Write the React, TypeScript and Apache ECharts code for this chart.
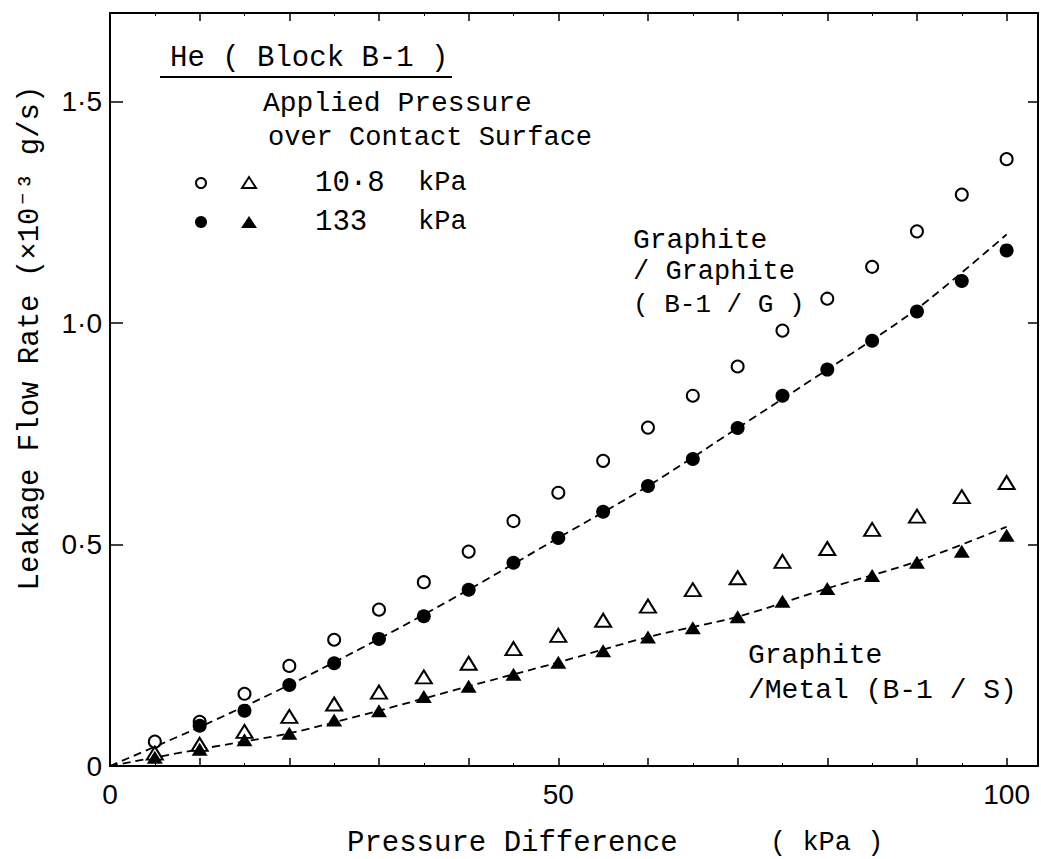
import React, { useEffect, useRef } from "react";
import * as echarts from "echarts";

// Pressure difference (kPa) of each measurement
const pressureDiff = [5, 10, 15, 20, 25, 30, 35, 40, 45, 50, 55, 60, 65, 70, 75, 80, 85, 90, 95, 100];

// Leakage flow rate (x10^-3 g/s)
// Graphite / Graphite (B-1/G)
const ggLow = [0.055, 0.100, 0.163, 0.226, 0.285, 0.353, 0.415, 0.484, 0.553, 0.617, 0.689, 0.764, 0.836, 0.902, 0.983, 1.055, 1.127, 1.207, 1.290, 1.370];
const ggHigh = [null, 0.091, 0.125, 0.183, 0.232, 0.287, 0.338, 0.398, 0.459, 0.515, 0.574, 0.632, 0.693, 0.763, 0.836, 0.895, 0.960, 1.026, 1.095, 1.164];
// Graphite / Metal (B-1/S)
const gmLow = [0.029, 0.049, 0.078, 0.112, 0.140, 0.167, 0.201, 0.232, 0.265, 0.295, 0.329, 0.361, 0.398, 0.425, 0.462, 0.491, 0.534, 0.564, 0.608, 0.640];
const gmHigh = [0.020, 0.038, 0.059, 0.074, 0.104, 0.125, 0.157, 0.180, 0.207, 0.234, 0.260, 0.291, 0.312, 0.337, 0.372, 0.401, 0.430, 0.460, 0.485, 0.521];

// Dashed fitted curves
const fitX = [0, 10, 20, 30, 40, 50, 60, 70, 80, 90, 100];
const ggFit = [0, 0.088, 0.183, 0.287, 0.398, 0.515, 0.632, 0.763, 0.895, 1.032, 1.2];
const gmFit = [0, 0.038, 0.074, 0.125, 0.180, 0.234, 0.291, 0.337, 0.401, 0.462, 0.540];

const xTickLabels = [0, 50, 100];
const yTickLabels = [0, 0.5, 1.0, 1.5];

const pairs = (xs: number[], ys: (number | null)[]) =>
  xs.map((x, i) => [x, ys[i]]).filter((p) => p[1] !== null);

const MONO = "'Liberation Mono', 'DejaVu Sans Mono', monospace";
const SANS = "'Liberation Sans', 'DejaVu Sans', sans-serif";

const txt = (text: string, x: number, y: number, size: number, extra: any = {}) => ({
  type: "text",
  x,
  y,
  z: 100,
  ...extra,
  style: {
    text,
    fill: "#000",
    fontSize: size,
    fontFamily: MONO,
    textAlign: "left",
    textVerticalAlign: "middle",
    align: "left",
    verticalAlign: "middle",
    ...(extra.style || {}),
  },
});

export default function App() {
  const ref = useRef<HTMLDivElement>(null);

  useEffect(() => {
    if (!ref.current) return;
    const chart = echarts.init(ref.current, null, { renderer: "svg" });

    const dashed = { color: "#000", width: 1.8, type: [8, 5] as any };
    const xCommon = {
      type: "value",
      min: 0,
      max: 103.5,
      interval: 10,
      splitLine: { show: false },
      axisLine: { show: true, onZero: false, lineStyle: { color: "#000", width: 2 } },
      axisTick: { show: true, inside: true, length: 8, lineStyle: { color: "#000", width: 1.5 } },
      minorTick: { show: true, splitNumber: 2, length: 3, lineStyle: { color: "#000", width: 1 } },
    };
    const yCommon = {
      type: "value",
      min: 0,
      max: 1.7,
      interval: 0.5,
      splitLine: { show: false },
      axisLine: { show: true, onZero: false, lineStyle: { color: "#000", width: 2 } },
      axisTick: { show: true, inside: true, length: 13, lineStyle: { color: "#000", width: 1.5 } },
    };

    chart.setOption({
      animation: false,
      backgroundColor: "#fff",
      grid: { left: 110, right: 3, top: 13, bottom: 93, containLabel: false },
      xAxis: [
        {
          ...xCommon,
          position: "bottom",
          axisLabel: {
            show: true,
            margin: 14,
            color: "#000",
            fontSize: 28,
            fontFamily: SANS,
            formatter: (v: number) => (xTickLabels.indexOf(v) >= 0 ? String(v) : ""),
          },
        },
        { ...xCommon, position: "top", axisLabel: { show: false } },
      ],
      yAxis: [
        {
          ...yCommon,
          position: "left",
          axisLabel: {
            show: true,
            margin: 8,
            color: "#000",
            fontSize: 28,
            fontFamily: SANS,
            formatter: (v: number) => {
              const hit = yTickLabels.find((t) => Math.abs(t - v) < 1e-6);
              if (hit === undefined) return "";
              return hit === 0 ? "0" : hit.toFixed(1).replace(".", "·");
            },
          },
        },
        { ...yCommon, position: "right", axisTick: { ...yCommon.axisTick, length: 10 }, axisLabel: { show: false } },
      ],
      series: [
        {
          name: "B-1/G fit",
          type: "line",
          smooth: 0.3,
          showSymbol: false,
          data: pairs(fitX, ggFit),
          lineStyle: dashed,
          z: 1,
        },
        {
          name: "B-1/S fit",
          type: "line",
          smooth: 0.3,
          showSymbol: false,
          data: pairs(fitX, gmFit),
          lineStyle: dashed,
          z: 1,
        },
        {
          name: "B-1/G 10.8 kPa",
          type: "scatter",
          symbol: "circle",
          symbolSize: 12,
          data: pairs(pressureDiff, ggLow),
          itemStyle: { color: "#fff", borderColor: "#000", borderWidth: 2, opacity: 1 },
          z: 3,
        },
        {
          name: "B-1/G 133 kPa",
          type: "scatter",
          symbol: "circle",
          symbolSize: 14,
          data: pairs(pressureDiff, ggHigh),
          itemStyle: { color: "#000", opacity: 1 },
          z: 3,
        },
        {
          name: "B-1/S 10.8 kPa",
          type: "scatter",
          symbol: "triangle",
          symbolSize: [16, 13],
          data: pairs(pressureDiff, gmLow),
          itemStyle: { color: "#fff", borderColor: "#000", borderWidth: 2, opacity: 1 },
          z: 3,
        },
        {
          name: "B-1/S 133 kPa",
          type: "scatter",
          symbol: "triangle",
          symbolSize: [16, 13],
          data: pairs(pressureDiff, gmHigh),
          itemStyle: { color: "#000", opacity: 1 },
          z: 3,
        },
      ],
      graphic: [
        txt("He ( Block B-1 )", 170, 58, 29),
        { type: "line", z: 100, shape: { x1: 160, y1: 77, x2: 452, y2: 77 }, style: { stroke: "#000", lineWidth: 2 } },
        txt("Applied Pressure", 263, 103, 28),
        txt("over Contact Surface", 268, 138, 27),
        { type: "circle", z: 100, shape: { cx: 201, cy: 183, r: 5 }, style: { fill: "#fff", stroke: "#000", lineWidth: 2 } },
        { type: "polygon", z: 100, shape: { points: [[242, 188], [256, 188], [249, 177]] }, style: { fill: "#fff", stroke: "#000", lineWidth: 2 } },
        txt("10·8", 315, 183, 29),
        txt("kPa", 418, 183, 27),
        { type: "circle", z: 100, shape: { cx: 201, cy: 222, r: 6 }, style: { fill: "#000" } },
        { type: "polygon", z: 100, shape: { points: [[241, 228], [257, 228], [249, 216]] }, style: { fill: "#000" } },
        txt("133", 315, 222, 29),
        txt("kPa", 418, 222, 27),
        txt("Graphite", 633, 240, 28),
        txt("/ Graphite", 633, 272, 27),
        txt("( B-1 / G )", 633, 305, 26),
        txt("Graphite", 748, 655, 28),
        txt("/Metal (B-1 / S)", 748, 690, 28),
        txt("Pressure Difference", 347, 843, 29),
        txt("( kPa )", 770, 843, 27),
        txt("Leakage Flow Rate (×10⁻³ g/s)", 30, 338, 29, {
          rotation: Math.PI / 2,
          style: { textAlign: "center", align: "center" },
        }),
      ],
    });

    return () => chart.dispose();
  }, []);

  return (
    <div
      ref={ref}
      style={{ position: "absolute", left: 0, top: 0, width: 1041, height: 859, background: "#fff" }}
    />
  );
}
